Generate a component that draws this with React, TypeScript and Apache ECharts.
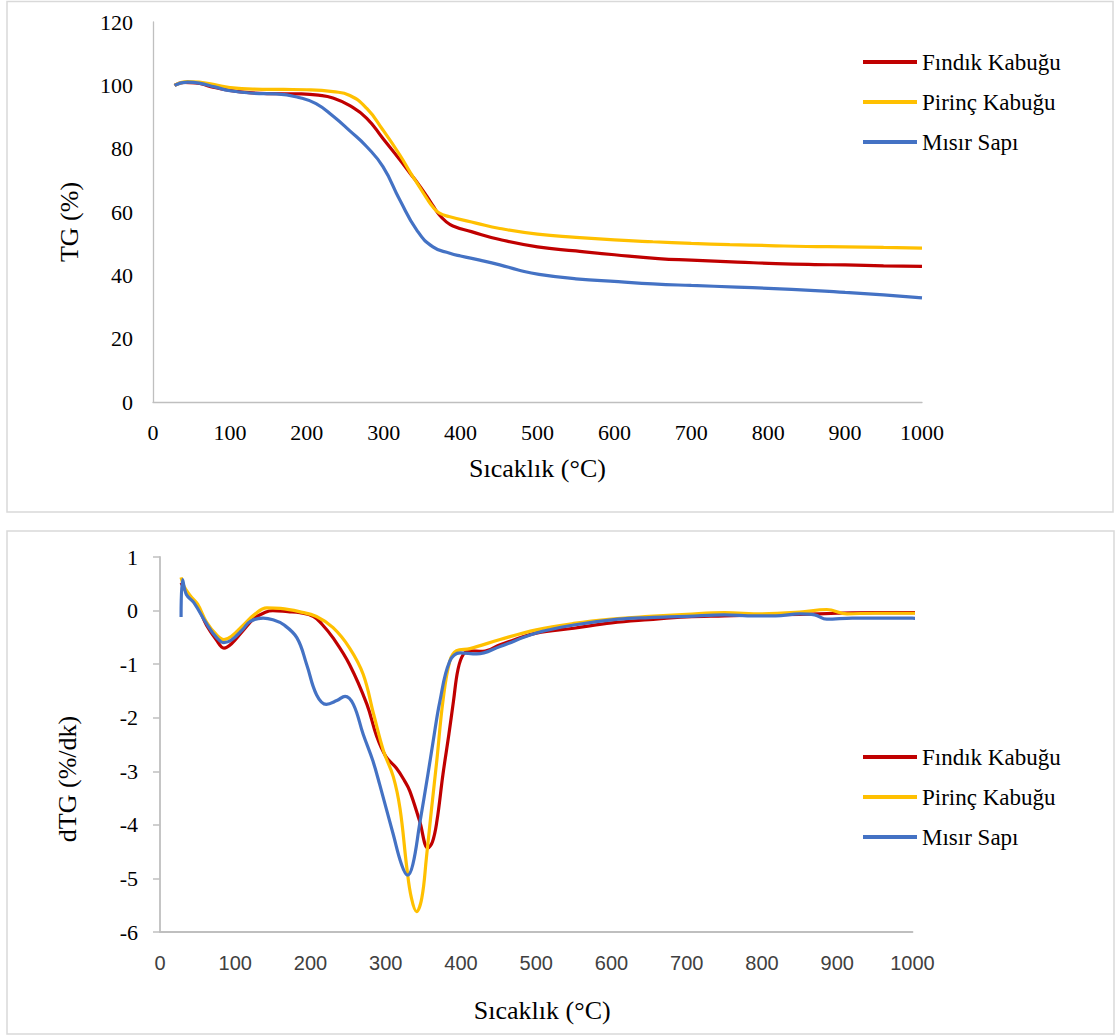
import { useEffect, useRef } from "react";
import * as echarts from "echarts";

const seriesNames = ["Fındık Kabuğu", "Pirinç Kabuğu", "Mısır Sapı"];
const seriesColors = ["#C00000", "#FFC000", "#4472C4"];

const xTicks = { min: 0, max: 1000, interval: 100 };
const tgTicks = { min: 0, max: 120, interval: 20 };
const dtgTicks = { min: -6, max: 1, interval: 1 };

// TG (%) curves: [temperature °C, mass %]
const findikTG = [
  [28, 100], [40, 100.9], [55, 100.8], [75, 99.6], [100, 98.4], [125, 97.7], [150, 97.4],
  [191, 97.3], [215, 96.9], [234, 96], [256, 93.6], [278, 89.6], [299, 83.2], [321, 76.5],
  [335, 72], [343, 69.5], [356, 65], [364, 62], [372, 59.2], [380, 57.2], [390, 55.6],
  [414, 53.8], [451, 51.3], [500, 49], [550, 47.7], [600, 46.5], [657, 45.3], [700, 44.8],
  [760, 44.2], [810, 43.7], [860, 43.4], [900, 43.3], [950, 43], [1000, 42.8],
];
const pirincTG = [
  [28, 100], [45, 101.2], [60, 101], [80, 100.2], [100, 99.3], [130, 98.8], [170, 98.7],
  [200, 98.6], [234, 98], [256, 96.8], [278, 92.7], [299, 85.9], [321, 78], [335, 72.3],
  [343, 69.3], [356, 64.3], [364, 61.6], [372, 59.7], [386, 58.5], [420, 56.5], [451, 54.8],
  [500, 53], [550, 52], [600, 51.2], [650, 50.6], [700, 50.1], [750, 49.7], [800, 49.4],
  [850, 49.1], [900, 49], [950, 48.8], [1000, 48.6],
];
const misirTG = [
  [28, 100], [45, 101], [60, 100.7], [80, 99.5], [100, 98.3], [130, 97.5], [160, 97.3],
  [191, 96.1], [212, 94.2], [234, 90.3], [256, 85.6], [278, 80.6], [299, 74.3], [321, 63.8],
  [343, 54.3], [364, 49], [386, 47], [400, 46.1], [425, 44.8], [451, 43.3], [475, 41.7],
  [502, 40.3], [550, 38.9], [605, 38], [650, 37.3], [700, 36.8], [759, 36.3], [800, 35.9],
  [861, 35.2], [900, 34.6], [950, 33.8], [1000, 32.9],
];

// dTG (%/dk) curves: [temperature °C, rate]
const findikDTG = [
  [28, 0.52], [32, 0.42], [40, 0.25], [50, 0.08], [62, -0.28], [75, -0.55], [85, -0.7],
  [95, -0.62], [110, -0.38], [125, -0.15], [140, -0.03], [150, 0], [170, -0.02], [186, -0.04],
  [204, -0.11], [215, -0.25], [230, -0.51], [252, -1.01], [275, -1.75], [288, -2.35],
  [300, -2.72], [314, -2.94], [325, -3.18], [332, -3.37], [345, -3.93], [356, -4.43],
  [362, -4.32], [368, -3.93], [376, -3.06], [384, -2.3], [390, -1.69], [396, -1.1],
  [403, -0.82], [412, -0.75], [429, -0.76], [452, -0.64], [500, -0.42], [550, -0.33],
  [600, -0.23], [650, -0.17], [700, -0.12], [750, -0.1], [800, -0.08], [850, -0.07],
  [900, -0.05], [950, -0.04], [1000, -0.04], [1025, -0.03],
];
const pirincDTG = [
  [28, 0.62], [32, 0.45], [40, 0.28], [50, 0.12], [62, -0.22], [75, -0.45], [85, -0.54],
  [95, -0.48], [110, -0.28], [125, -0.08], [142, 0.05], [160, 0.04], [185, -0.02],
  [208, -0.11], [230, -0.32], [252, -0.7], [270, -1.19], [284, -1.94], [297, -2.62],
  [310, -3.1], [319, -3.7], [328, -4.8], [334, -5.36], [341, -5.62], [348, -5.36],
  [354, -4.62], [361, -3.68], [368, -2.78], [376, -1.69], [385, -0.95], [394, -0.75],
  [412, -0.71], [452, -0.54], [500, -0.36], [550, -0.24], [600, -0.16], [650, -0.11],
  [700, -0.07], [750, -0.04], [800, -0.06], [850, -0.03], [886, 0.02], [913, -0.06],
  [950, -0.05], [1000, -0.05], [1025, -0.05],
];
const misirDTG = [
  [28, -0.12], [30, 0.58], [35, 0.3], [45, 0.15], [62, -0.25], [75, -0.5], [85, -0.6],
  [95, -0.55], [110, -0.35], [120, -0.2], [137, -0.14], [150, -0.17], [164, -0.26],
  [182, -0.51], [195, -1.01], [208, -1.57], [221, -1.75], [235, -1.68], [246, -1.6],
  [257, -1.75], [270, -2.31], [283, -2.81], [292, -3.25], [310, -4.18], [321, -4.74],
  [329, -4.94], [336, -4.74], [345, -3.99], [356, -3.06], [363, -2.44], [372, -1.69],
  [385, -0.95], [399, -0.79], [421, -0.81], [452, -0.67], [500, -0.42], [550, -0.27],
  [609, -0.16], [650, -0.13], [700, -0.11], [750, -0.08], [790, -0.1], [818, -0.1],
  [850, -0.06], [870, -0.08], [886, -0.16], [920, -0.14], [950, -0.14], [1000, -0.14],
  [1015, -0.17], [1025, -0.13],
];

const tgData = [findikTG, pirincTG, misirTG];
const dtgData = [findikDTG, pirincDTG, misirDTG];

const SERIF = "Liberation Serif";
const SANS = "Liberation Sans";
const AXIS_GRAY = "#bfbfbf";
const plainNumber = (v: number) => String(v);

export default function App() {
  const ref = useRef<HTMLDivElement>(null);

  useEffect(() => {
    if (!ref.current) return;
    const chart = echarts.init(ref.current, null, { renderer: "svg" });

    const legendBase = {
      orient: "vertical",
      left: 863,
      padding: 0,
      itemWidth: 54,
      itemHeight: 4,
      itemGap: 17,
      icon: "rect",
      textStyle: { fontFamily: SERIF, fontSize: 23, color: "#000", lineHeight: 23 },
      data: seriesNames,
    };

    chart.setOption({
      animation: false,
      backgroundColor: "#ffffff",
      graphic: [
        {
          type: "rect",
          silent: true,
          z: -10,
          shape: { x: 7, y: 1.5, width: 1106, height: 510.5 },
          style: { fill: "none", stroke: "#d9d9d9", lineWidth: 1.5 },
        },
        {
          type: "rect",
          silent: true,
          z: -10,
          shape: { x: 7, y: 531, width: 1107, height: 503 },
          style: { fill: "none", stroke: "#d9d9d9", lineWidth: 1.5 },
        },
      ],
      legend: [
        { ...legendBase, top: 50.5 },
        { ...legendBase, top: 745.5 },
      ],
      grid: [
        { left: 153, top: 22, width: 769, height: 380 },
        { left: 160, top: 557, width: 752.5, height: 375 },
      ],
      xAxis: [
        {
          type: "value",
          gridIndex: 0,
          ...xTicks,
          axisLine: { show: true, onZero: false, lineStyle: { color: AXIS_GRAY, width: 1.3 } },
          axisTick: { show: false },
          splitLine: { show: false },
          axisLabel: { fontFamily: SERIF, fontSize: 22, color: "#000", margin: 19, formatter: plainNumber },
          name: "Sıcaklık (°C)",
          nameLocation: "middle",
          nameGap: 53,
          nameTextStyle: { fontFamily: SERIF, fontSize: 26, color: "#000" },
        },
        {
          type: "value",
          gridIndex: 1,
          ...xTicks,
          axisLine: { show: true, onZero: false, lineStyle: { color: AXIS_GRAY, width: 1.8 } },
          axisTick: { show: false },
          splitLine: { show: false },
          axisLabel: { fontFamily: SANS, fontSize: 20, color: "#404040", margin: 21, formatter: plainNumber },
          name: "Sıcaklık (°C)",
          nameLocation: "middle",
          nameGap: 65,
          nameTextStyle: { fontFamily: SERIF, fontSize: 26, color: "#000", padding: [0, 0, 0, 12] },
        },
      ],
      yAxis: [
        {
          type: "value",
          gridIndex: 0,
          ...tgTicks,
          axisLine: { show: true, onZero: false, lineStyle: { color: AXIS_GRAY, width: 1.3 } },
          axisTick: { show: false },
          splitLine: { show: false },
          axisLabel: { fontFamily: SERIF, fontSize: 22, color: "#000", margin: 20, formatter: plainNumber },
          name: "TG (%)",
          nameLocation: "middle",
          nameGap: 71,
          nameTextStyle: { fontFamily: SERIF, fontSize: 26, color: "#000", padding: [0, 20, 0, 0] },
        },
        {
          type: "value",
          gridIndex: 1,
          ...dtgTicks,
          axisLine: { show: true, onZero: false, lineStyle: { color: AXIS_GRAY, width: 1.8 } },
          axisTick: { show: true, length: 7, lineStyle: { color: AXIS_GRAY, width: 1.5 } },
          splitLine: { show: false },
          axisLabel: { fontFamily: SERIF, fontSize: 22, color: "#000", margin: 22, formatter: plainNumber },
          name: "dTG (%/dk)",
          nameLocation: "middle",
          nameGap: 80,
          nameTextStyle: { fontFamily: SERIF, fontSize: 26, color: "#000", padding: [0, 69, 0, 0] },
        },
      ],
      series: [
        ...tgData.map((d, i) => ({
          name: seriesNames[i],
          type: "line",
          xAxisIndex: 0,
          yAxisIndex: 0,
          data: d,
          smooth: 0.5,
          showSymbol: false,
          symbol: "none",
          color: seriesColors[i],
          lineStyle: { width: 3.2, color: seriesColors[i] },
        })),
        ...dtgData.map((d, i) => ({
          name: seriesNames[i],
          type: "line",
          xAxisIndex: 1,
          yAxisIndex: 1,
          data: d,
          smooth: 0.4,
          clip: false,
          showSymbol: false,
          symbol: "none",
          color: seriesColors[i],
          lineStyle: { width: 3.2, color: seriesColors[i] },
        })),
      ],
    });

    return () => chart.dispose();
  }, []);

  return (
    <div
      ref={ref}
      style={{ position: "absolute", left: 0, top: 0, width: 1117, height: 1036, background: "#fff" }}
    />
  );
}
